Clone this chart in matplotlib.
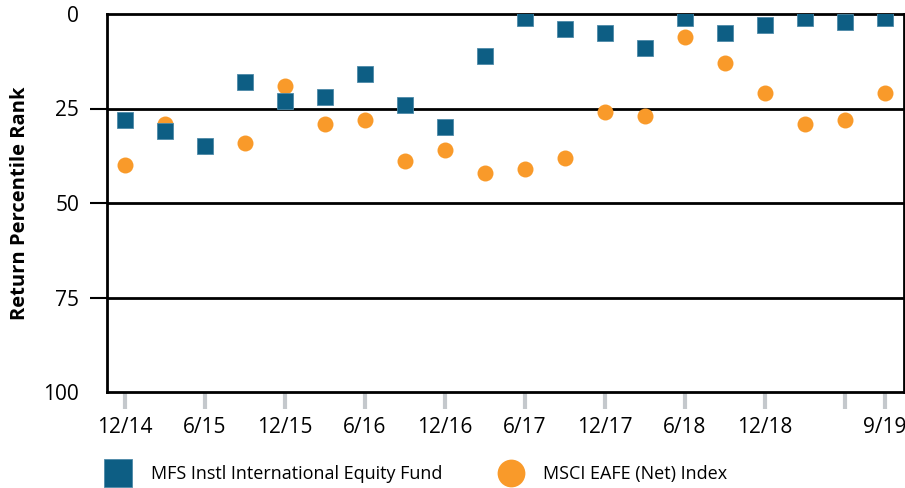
import numpy as np
import matplotlib
matplotlib.use("Agg")
import matplotlib.pyplot as plt
from matplotlib.lines import Line2D

# Quarterly periods, Dec 2014 through Sep 2019
quarters = ["12/14", "3/15", "6/15", "9/15", "12/15", "3/16", "6/16", "9/16",
            "12/16", "3/17", "6/17", "9/17", "12/17", "3/18", "6/18", "9/18",
            "12/18", "3/19", "6/19", "9/19"]

fund_rank = [28, 31, 35, 18, 23, 22, 16, 24, 30, 11,
             1, 4, 5, 9, 1, 5, 3, 1, 2, 1]
index_rank = [40, 29, 35, 34, 19, 29, 28, 39, 36, 42,
              41, 38, 26, 27, 6, 13, 21, 29, 28, 21]

tick_quarters = ["12/14", "6/15", "12/15", "6/16", "12/16", "6/17", "12/17",
                 "6/18", "12/18", "6/19", "9/19"]
tick_labels = ["12/14", "6/15", "12/15", "6/16", "12/16", "6/17", "12/17",
               "6/18", "12/18", "", "9/19"]
y_ticks = [0, 25, 50, 75, 100]

fund_name = "MFS Instl International Equity Fund"
index_name = "MSCI EAFE (Net) Index"

FUND_COLOR = "#0d5e84"
INDEX_COLOR = "#f99a2a"

plt.rcParams["font.family"] = ["Open Sans", "DejaVu Sans"]

fig = plt.figure(figsize=(9.05, 4.88), dpi=100)
ax = fig.add_axes([107 / 905, 1 - 392 / 488, (904 - 107) / 905, (392 - 14) / 488])

x = np.arange(len(quarters))
ax.plot(x, index_rank, linestyle="none", marker="o", markersize=11.5,
        markerfacecolor=INDEX_COLOR, markeredgecolor=INDEX_COLOR,
        markeredgewidth=0, zorder=3)
ax.plot(x, fund_rank, linestyle="none", marker="s", markersize=11.3,
        markerfacecolor=FUND_COLOR, markeredgecolor="#4d8aa8",
        markeredgewidth=0.6, zorder=4)

ax.set_xlim(-0.45, 19.48)
ax.set_ylim(100, 0)

# horizontal reference lines
for yv in [25, 50, 75]:
    ax.axhline(yv, color="black", linewidth=2, zorder=2)

for s in ax.spines.values():
    s.set_color("black")
    s.set_linewidth(2)

ax.set_yticks(y_ticks)
ax.set_yticklabels([str(v) for v in y_ticks], fontsize=15)
ax.tick_params(axis="y", length=12, width=1.5, color="black", pad=8)
for tk, v in zip(ax.yaxis.get_major_ticks(), y_ticks):
    if v in (0, 100):
        tk.tick1line.set_visible(False)

tick_pos = [quarters.index(q) for q in tick_quarters]
ax.set_xticks(tick_pos)
ax.set_xticklabels(tick_labels, fontsize=15)
ax.tick_params(axis="x", length=12, width=3, color="#c4c8cc", pad=6)

ax.set_ylabel("Return Percentile Rank", fontsize=14.5, fontweight="bold",
              labelpad=10)

handles = [
    Line2D([], [], linestyle="none", marker="s", markersize=20,
           markerfacecolor=FUND_COLOR, markeredgecolor="#4d8aa8",
           markeredgewidth=0.6, label=fund_name),
    Line2D([], [], linestyle="none", marker="o", markersize=20,
           markerfacecolor=INDEX_COLOR, markeredgecolor=INDEX_COLOR,
           markeredgewidth=0, label=index_name),
]
fig.legend(handles=handles, loc="center", bbox_to_anchor=(0.461, 0.028),
           ncol=2, frameon=False, fontsize=13, handlelength=1.2,
           handletextpad=1.2, columnspacing=3.2, borderpad=0)

fig.savefig("out.png", dpi=100)
